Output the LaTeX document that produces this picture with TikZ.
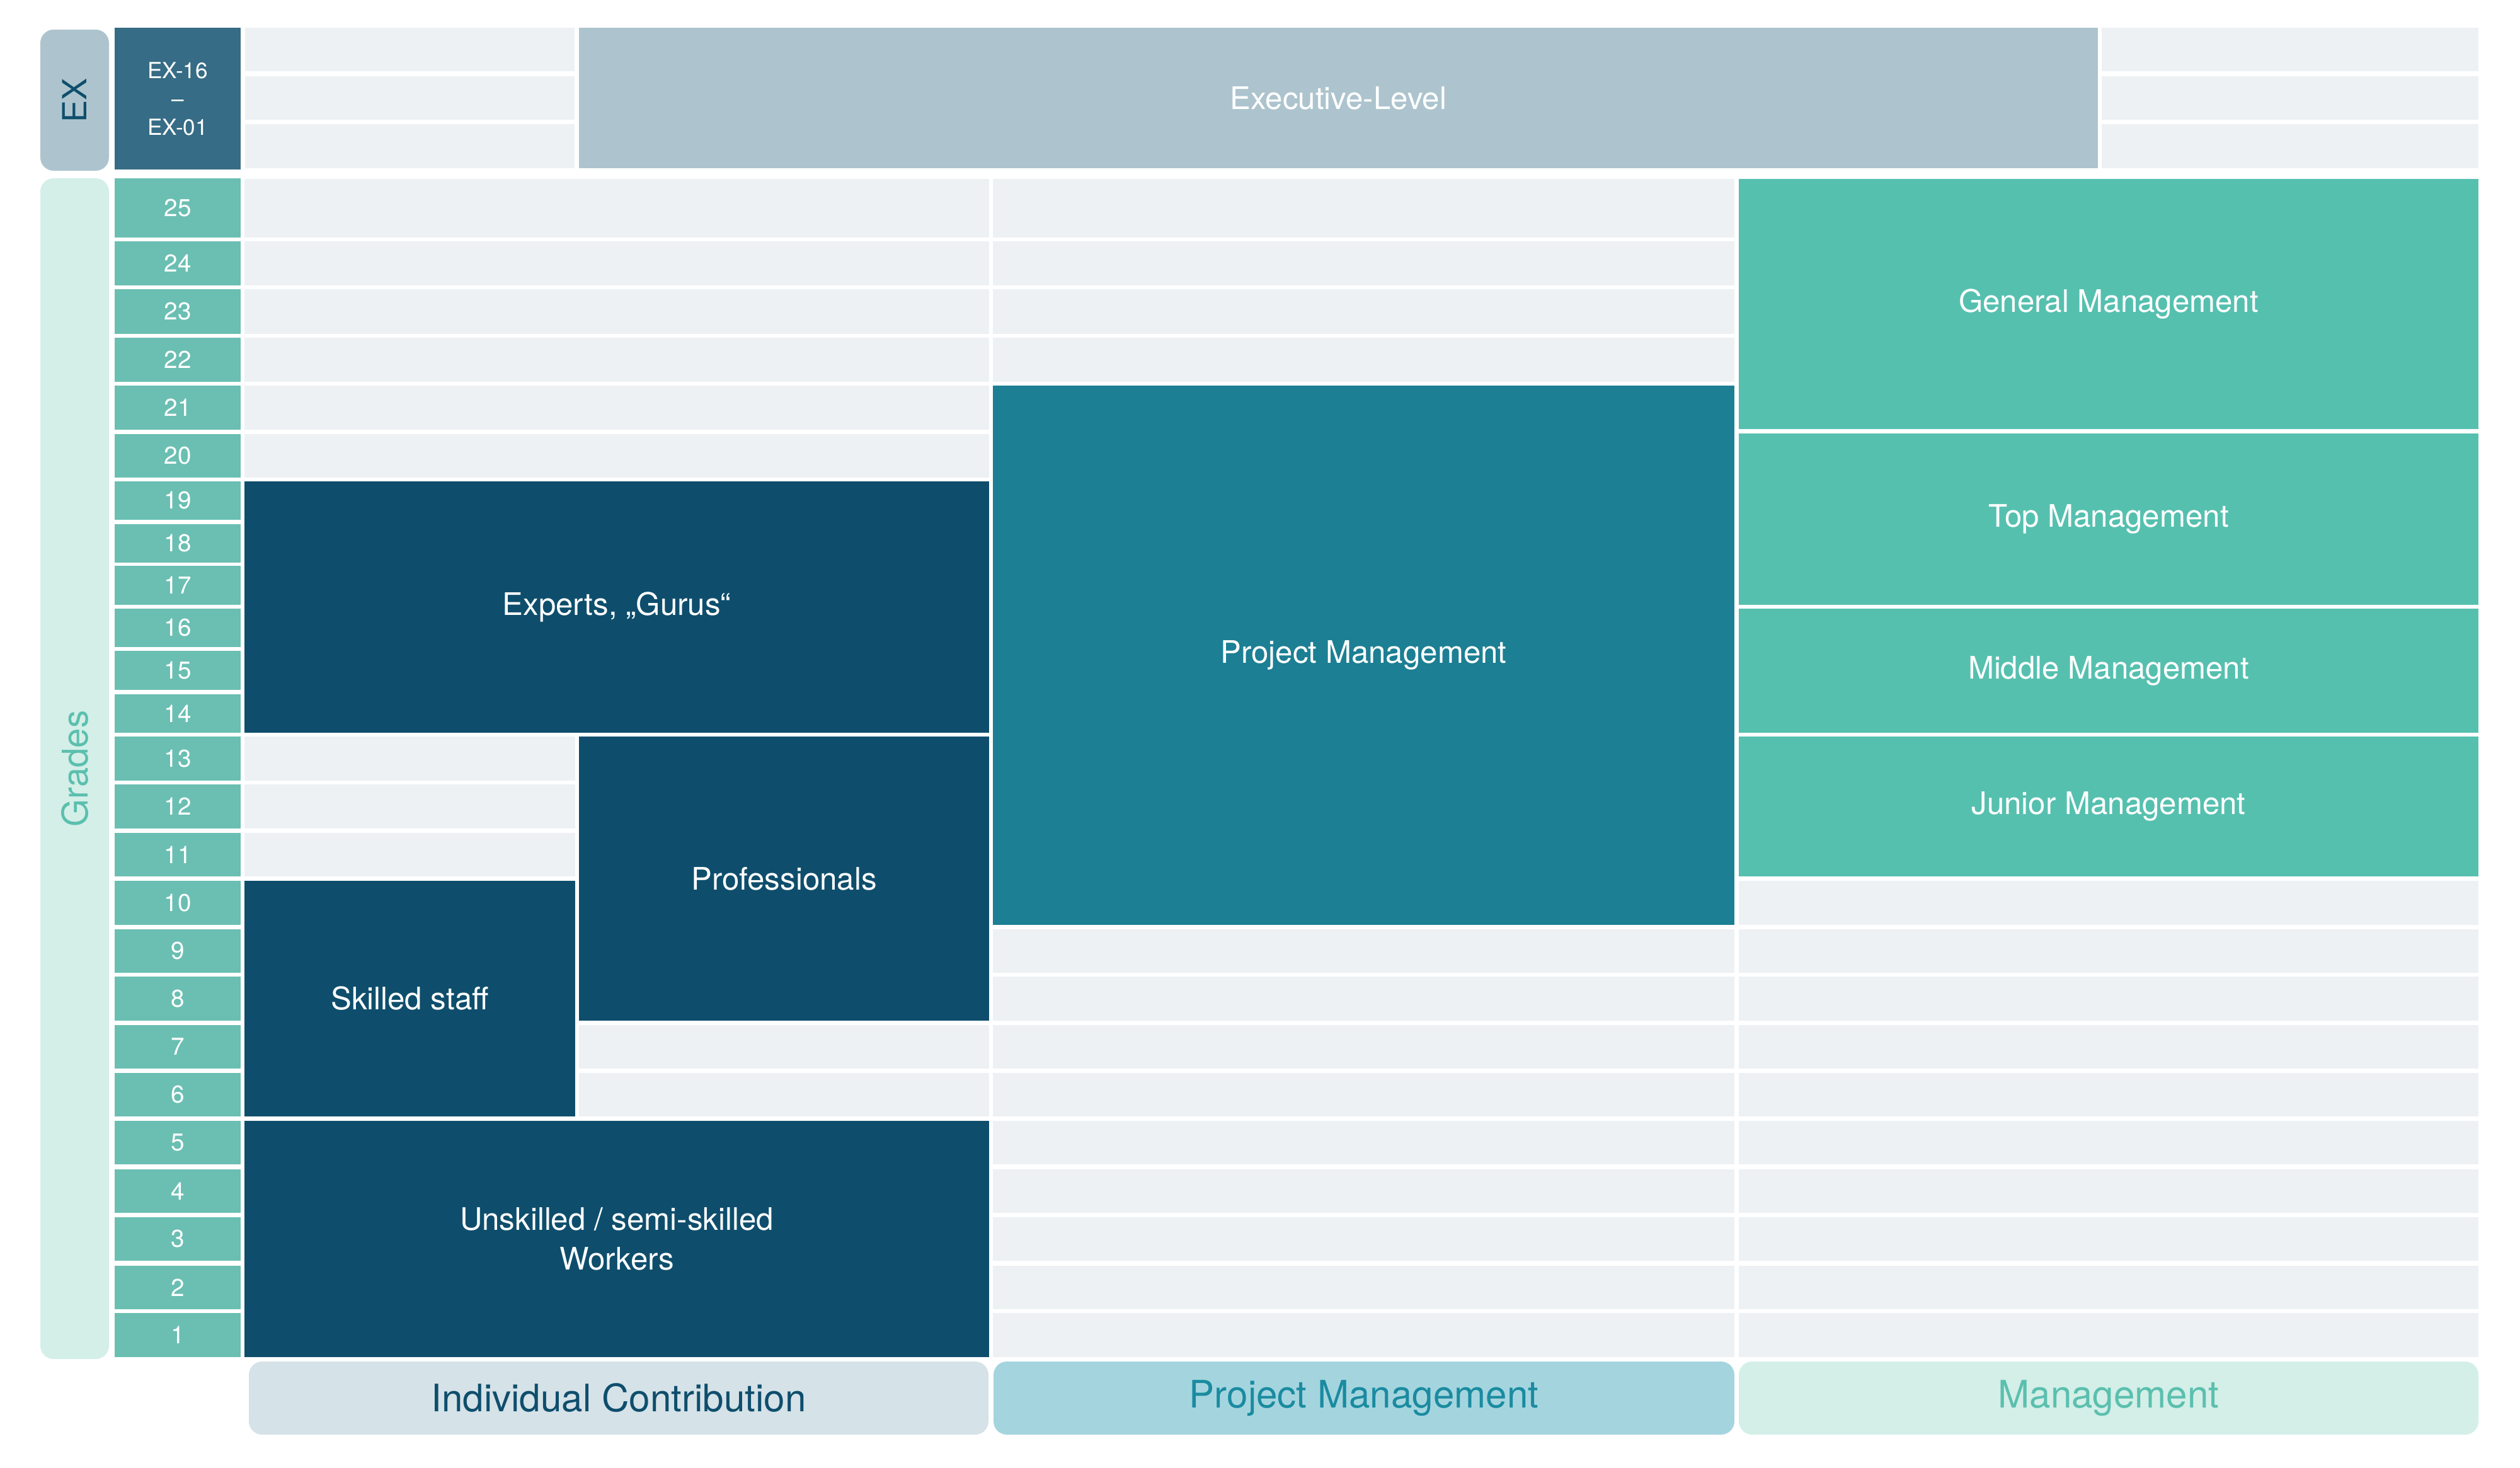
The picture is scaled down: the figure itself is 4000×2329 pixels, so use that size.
\documentclass[tikz,border=0pt]{standalone}
\usepackage{fontspec}
\setmainfont{TeX Gyre Heros}
\definecolor{navy}{HTML}{0E4E6C}
\definecolor{petrol}{HTML}{1C7F93}
\definecolor{mint}{HTML}{56C0AF}
\definecolor{gradegreen}{HTML}{6ABFB2}
\definecolor{lightcell}{HTML}{EDF1F4}
\definecolor{execgrey}{HTML}{ADC4CE}
\definecolor{exblue}{HTML}{366C85}
\definecolor{gradetab}{HTML}{D3EFE8}
\definecolor{ictab}{HTML}{D5E2E8}
\definecolor{pmtab}{HTML}{A4D5DF}
\definecolor{pmtext}{HTML}{1A8BA0}
\definecolor{mgmttext}{HTML}{5BBFAE}
\tikzset{
    %Define style for empty grid cells
    cell/.style={fill=lightcell},
    %Place a box between its left, top, right and bottom edge
    spans/.style n args={4}{
           minimum width={(#3-#1)*0.01cm},
           minimum height={(#4-#2)*0.01cm},
           at={({(#1+#3)/2},{(#2+#4)/2})}},
    %Define style for boxes
    box/.style={
           rectangle,
           inner sep=0pt, outer sep=0pt,
           text=white,
           align=center,
           font=\fontsize{14}{18}\selectfont},
    grade/.style={
           box,
           fill=gradegreen,
           font=\fontsize{11}{13}\selectfont},
    staff/.style={box, fill=navy},
    project/.style={box, fill=petrol},
    manager/.style={box, fill=mint},
    % Define style for the tabs
    sidetab/.style={
           rectangle,
           rounded corners=6pt,
           inner sep=0pt, outer sep=0pt},
    bottomtab/.style={
           sidetab,
           font=\fontsize{17.1}{20}\selectfont}
}

\begin{document}
\begin{tikzpicture}[x=0.01cm,y=-0.01cm]
\useasboundingbox (0,0) rectangle (4000,2329);

% empty cells
\foreach \t/\b in {44/113,121/190,197/267}
  \foreach \l/\r in {389/912,3336/3934}
    \fill[cell] (\l,\t) rectangle (\r,\b);
\foreach \t/\b in {284/377,383/453,459/530,536/606,612/682,689/758}
  \fill[cell] (388,\t) rectangle (1570,\b);
\foreach \t/\b in {1169/1239,1245/1315,1322/1391}
  \fill[cell] (388,\t) rectangle (913,\b);
\foreach \t/\b in {1627/1696,1703/1772}
  \fill[cell] (919,\t) rectangle (1570,\b);
\foreach \t/\b in {284/377,383/453,459/530,536/606}
  \fill[cell] (1576,\t) rectangle (2753,\b);
\fill[cell] (2760,1398) rectangle (3934,1468);
\foreach \t/\b in {1475/1544,1550/1620,1627/1696,1703/1772,1779/1848,1856/1925,1932/2001,2009/2078,2084/2154}
  \foreach \l/\r in {1576/2753,2760/3934}
    \fill[cell] (\l,\t) rectangle (\r,\b);

% side tabs
\node[sidetab, fill=execgrey, spans={64}{47}{173}{271}] (extab) {};
\node[rotate=90, text=navy, font=\fontsize{15}{18}\selectfont] (exlabel) at (extab.center) {EX};
\node[sidetab, fill=gradetab, spans={64}{283}{173}{2157}] (gradetab) {};
\node[rotate=90, text=mgmttext, font=\fontsize{16}{19}\selectfont] (gradelabel) at (gradetab.center) {Grades};

\node[box, fill=exblue, spans={182}{44}{382}{269}, font=\fontsize{10}{12.8}\selectfont] (exgrades) {EX-16\\–\\EX-01};
\node[box, fill=execgrey, spans={919}{44}{3330}{267}] (exec) {Executive-Level};

% grades
\foreach \n/\t/\b in {25/283/377,24/383/453,23/459/530,22/536/606,21/612/682,20/689/758,
    19/764/825,18/832/893,17/898/960,16/966/1027,15/1033/1095,14/1102/1163,
    13/1169/1239,12/1245/1315,11/1322/1391,10/1398/1468,9/1475/1544,8/1550/1620,
    7/1627/1696,6/1703/1772,5/1779/1848,4/1856/1925,3/1932/2001,2/2009/2078,1/2084/2154}
  \node[grade, spans={182}{\t}{382}{\b}] (g\n) {\n};

% individual contribution
\node[staff, spans={388}{764}{1570}{1163}] (experts) {Experts, „Gurus“};
\node[staff, spans={919}{1169}{1570}{1620}] (professionals) {Professionals};
\node[staff, spans={388}{1398}{913}{1772}] (skilled) {Skilled staff};
\node[staff, spans={388}{1779}{1570}{2154}] (unskilled) {Unskilled / semi-skilled\\Workers};

% project management
\node[project, spans={1576}{612}{2753}{1468}] (projects) {Project Management};

% management
\node[manager, spans={2760}{284}{3934}{681}] (general) {General Management};
\node[manager, spans={2760}{688}{3934}{960}] (top) {Top Management};
\node[manager, spans={2760}{966}{3934}{1163}] (middle) {Middle Management};
\node[manager, spans={2760}{1169}{3934}{1391}] (junior) {Junior Management};

% bottom tabs
\node[bottomtab, fill=ictab, text=navy, spans={395}{2161}{1569}{2277}] (ictab) {Individual Contribution};
\node[bottomtab, fill=pmtab, text=pmtext, spans={1577}{2161}{2753}{2277}] (pmtab) {Project Management};
\node[bottomtab, fill=gradetab, text=mgmttext, spans={2760}{2161}{3934}{2277}] (mgmttab) {Management};

\end{tikzpicture}
\end{document}
